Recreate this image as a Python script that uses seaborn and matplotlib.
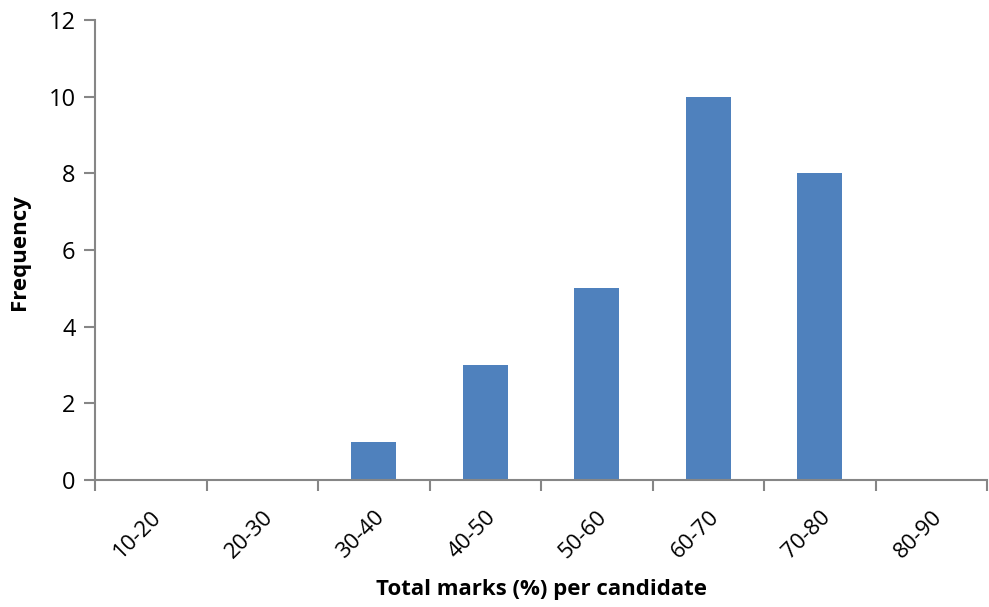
import matplotlib
matplotlib.use("Agg")
import matplotlib.pyplot as plt
import seaborn as sns
import pandas as pd
import numpy as np

# Score bands and the number of candidates in each
bands = ["10-20", "20-30", "30-40", "40-50", "50-60", "60-70", "70-80", "80-90"]
counts = [0, 0, 1, 3, 5, 10, 8, 0]

sns.set_theme(style="white")
plt.rcParams["font.family"] = ["Open Sans", "DejaVu Sans"]
plt.rcParams["text.color"] = "black"
plt.rcParams["xtick.color"] = "black"
plt.rcParams["ytick.color"] = "black"
plt.rcParams["axes.labelcolor"] = "black"

df = pd.DataFrame({"band": bands, "count": counts})

W, H = 989, 607
fig = plt.figure(figsize=(W / 100, H / 100), dpi=100)
ax = fig.add_axes([95 / W, 1 - 480 / H, (987 - 95) / W, (480 - 20) / H])

sns.barplot(data=df, x="band", y="count", order=bands, color="#4F81BD",
            saturation=1, width=0.4, linewidth=0, ax=ax)

axis_grey = "#868686"
ax.set_xlim(-0.5, len(bands) - 0.5)
ax.set_ylim(0, 12)
ax.set_yticks(np.arange(0, 13, 2))

# Tick marks sit between bands; labels sit under each band
ax.set_xticks(np.arange(-0.5, len(bands), 1.0))
ax.set_xticklabels([])
ax.set_xticks(np.arange(len(bands)), minor=True)
ax.set_xticklabels(bands, minor=True, rotation=45, ha="right", va="top",
                   rotation_mode="anchor", fontsize=16)
ax.tick_params(axis="x", which="minor", length=0, pad=19, colors="black")
ax.tick_params(axis="x", which="major", length=8, width=1.5, color=axis_grey,
               direction="out")
ax.tick_params(axis="y", length=8, width=1.5, color=axis_grey, direction="out",
               labelsize=17, pad=6, labelcolor="black")
ax.tick_params(axis="both", which="both", bottom=True, left=True)

for side in ["top", "right"]:
    ax.spines[side].set_visible(False)
for side in ["left", "bottom"]:
    ax.spines[side].set_color(axis_grey)
    ax.spines[side].set_linewidth(1.5)

ax.set_xlabel("Total marks (%) per candidate", fontsize=16, fontweight="bold",
              va="center")
ax.xaxis.set_label_coords(0.5, (480 - 590) / 460)
ax.set_ylabel("Frequency", fontsize=16, fontweight="bold", va="center")
ax.yaxis.set_label_coords((20 - 95) / 892, (480 - 252) / 460)

fig.savefig("out.png", dpi=100)
